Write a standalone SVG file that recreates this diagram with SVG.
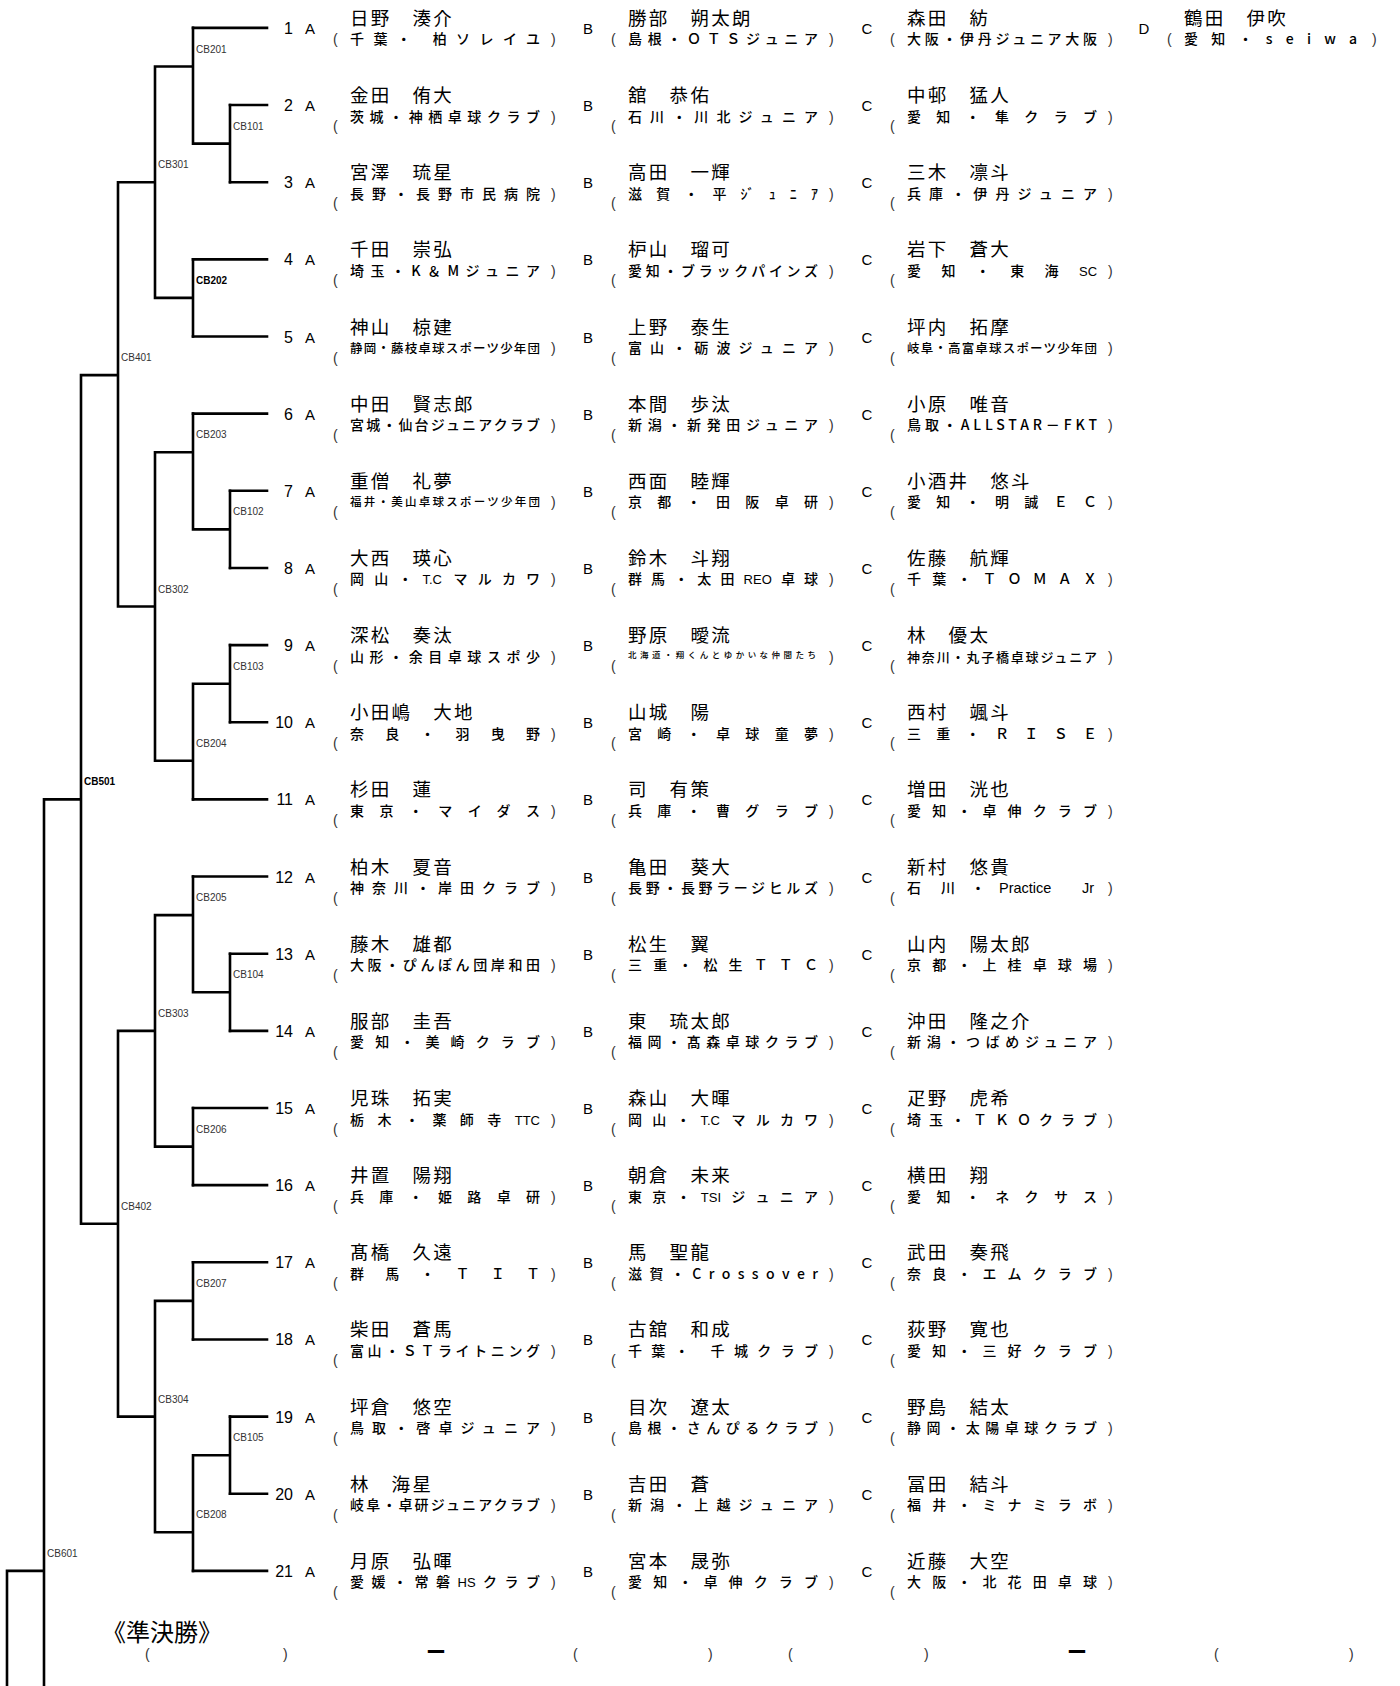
<svg xmlns="http://www.w3.org/2000/svg" width="1400" height="1686" viewBox="0 0 1400 1686">
<style>
.ln{fill:none;stroke:#000;stroke-width:2.6;stroke-linecap:square}
.cb{font-family:"Liberation Sans",Arial,sans-serif;font-size:10px;fill:#333}
.cbb{font-family:"Liberation Sans",Arial,sans-serif;font-size:10px;fill:#000;font-weight:bold}
.num{font-family:"Liberation Sans",Arial,sans-serif;font-size:16px;fill:#000;text-anchor:end}
.l{font-family:"Liberation Sans",Arial,sans-serif;font-size:15px;fill:#000;text-anchor:middle}
.n{font-family:"Noto Sans CJK JP",sans-serif;font-size:18.5px;letter-spacing:2.3px;fill:#000}
.c{font-family:"Noto Sans CJK JP",sans-serif;font-size:14px;font-weight:500;fill:#000}
.p{font-family:"Liberation Sans",Arial,sans-serif;font-size:14px;fill:#333}
.a{font-family:"Liberation Sans",Arial,sans-serif;font-size:13px}
.t{font-family:"Noto Sans CJK JP",sans-serif;font-size:24px;fill:#000}
.d{font-family:"Noto Sans CJK JP",sans-serif;font-size:20px;font-weight:bold;fill:#000;text-anchor:middle}
</style>
<rect x="0" y="0" width="1400" height="1686" fill="#fff"/>
<g id="connectors">
<path class="ln" d="M193 27.9H267 M230 105.05H267 M230 182.2H267 M193 259.35H267 M193 336.5H267 M193 413.65H267 M230 490.8H267 M230 567.95H267 M230 645.1H267 M230 722.25H267 M193 799.4H267 M193 876.55H267 M230 953.7H267 M230 1030.85H267 M193 1108H267 M193 1185.15H267 M193 1262.3H267 M193 1339.45H267 M230 1416.6H267 M230 1493.75H267 M193 1570.9H267"/>
<path class="ln" d="M230 105.05V182.2 M193 143.6H230 M193 27.9V143.6 M155 66.5H193 M193 259.35V336.5 M155 297.9H193 M155 66.5V297.9 M118 182.2H155 M230 490.8V567.95 M193 529.4H230 M193 413.65V529.4 M155 452.2H193 M230 645.1V722.25 M193 683.7H230 M193 683.7V799.4 M155 760.8H193 M155 452.2V760.8 M118 606.5H155 M118 182.2V606.5 M81 375.1H118 M230 953.7V1030.85 M193 992.3H230 M193 876.55V992.3 M155 915.1H193 M193 1108V1185.15 M155 1146.6H193 M155 915.1V1146.6 M118 1030.85H155 M193 1262.3V1339.45 M155 1300.9H193 M230 1416.6V1493.75 M193 1455.2H230 M193 1455.2V1570.9 M155 1532.3H193 M155 1300.9V1532.3 M118 1416.6H155 M118 1030.85V1416.6 M81 1223.7H118 M81 375.1V1223.7 M44 799.4H81 M44 799.4V1690 M7 1570.9H44 M7 1570.9V1690"/>
<text class="cb" x="233" y="129.6">CB101</text>
<text class="cb" x="196" y="52.5">CB201</text>
<text class="cbb" x="196" y="283.9">CB202</text>
<text class="cb" x="158" y="168.2">CB301</text>
<text class="cb" x="233" y="515.4">CB102</text>
<text class="cb" x="196" y="438.2">CB203</text>
<text class="cb" x="233" y="669.7">CB103</text>
<text class="cb" x="196" y="746.8">CB204</text>
<text class="cb" x="158" y="592.5">CB302</text>
<text class="cb" x="121" y="361.1">CB401</text>
<text class="cb" x="233" y="978.3">CB104</text>
<text class="cb" x="196" y="901.1">CB205</text>
<text class="cb" x="196" y="1132.6">CB206</text>
<text class="cb" x="158" y="1016.9">CB303</text>
<text class="cb" x="196" y="1286.9">CB207</text>
<text class="cb" x="233" y="1441.2">CB105</text>
<text class="cb" x="196" y="1518.3">CB208</text>
<text class="cb" x="158" y="1402.6">CB304</text>
<text class="cb" x="121" y="1209.7">CB402</text>
<text class="cbb" x="84" y="785.4">CB501</text>
<text class="cb" x="47" y="1556.9">CB601</text>
</g>

<g id="r1" transform="translate(0,27.9)">
<text class="num" x="293" y="6">1</text>
<g id="r1-A"><text class="l" x="310" y="6">A</text><text class="n" x="350" y="-3">日野　湊介</text><text class="p" x="333" y="16.5">(</text><text class="c" x="350" y="16.5" textLength="190" lengthAdjust="spacing">千葉・ 柏ソレイユ</text><text class="p" x="551" y="16.5">)</text></g>
<g id="r1-B" transform="translate(278,0)"><text class="l" x="310" y="6">B</text><text class="n" x="350" y="-3">勝部　朔太朗</text><text class="p" x="333" y="16.5">(</text><text class="c" x="350" y="16.5" textLength="190" lengthAdjust="spacing">島根・ＯＴＳジュニア</text><text class="p" x="551" y="16.5">)</text></g>
<g id="r1-C" transform="translate(557,0)"><text class="l" x="310" y="6">C</text><text class="n" x="350" y="-3">森田　紡</text><text class="p" x="333" y="16.5">(</text><text class="c" x="350" y="16.5" textLength="190" lengthAdjust="spacing">大阪・伊丹ジュニア大阪</text><text class="p" x="551" y="16.5">)</text></g>
<g id="r1-D" transform="translate(834,0)"><text class="l" x="310" y="6">D</text><text class="n" x="350" y="-3">鶴田　伊吹</text><text class="p" x="333" y="16.5">(</text><text class="c" x="350" y="16.5" textLength="173" lengthAdjust="spacing">愛知・seiwa</text><text class="p" x="538" y="16.5">)</text></g>
</g>

<g id="r2" transform="translate(0,105.05)">
<text class="num" x="293" y="6">2</text>
<g id="r2-A"><text class="l" x="310" y="6">A</text><text class="n" x="350" y="-3">金田　侑大</text><text class="p" x="333" y="26">(</text><text class="c" x="350" y="16.5" textLength="190" lengthAdjust="spacing">茨城・神栖卓球クラブ</text><text class="p" x="551" y="16.5">)</text></g>
<g id="r2-B" transform="translate(278,0)"><text class="l" x="310" y="6">B</text><text class="n" x="350" y="-3">舘　恭佑</text><text class="p" x="333" y="26">(</text><text class="c" x="350" y="16.5" textLength="190" lengthAdjust="spacing">石川・川北ジュニア</text><text class="p" x="551" y="16.5">)</text></g>
<g id="r2-C" transform="translate(557,0)"><text class="l" x="310" y="6">C</text><text class="n" x="350" y="-3">中邨　猛人</text><text class="p" x="333" y="26">(</text><text class="c" x="350" y="16.5" textLength="190" lengthAdjust="spacing">愛知・隼クラブ</text><text class="p" x="551" y="16.5">)</text></g>
</g>

<g id="r3" transform="translate(0,182.2)">
<text class="num" x="293" y="6">3</text>
<g id="r3-A"><text class="l" x="310" y="6">A</text><text class="n" x="350" y="-3">宮澤　琉星</text><text class="p" x="333" y="26">(</text><text class="c" x="350" y="16.5" textLength="190" lengthAdjust="spacing">長野・長野市民病院</text><text class="p" x="551" y="16.5">)</text></g>
<g id="r3-B" transform="translate(278,0)"><text class="l" x="310" y="6">B</text><text class="n" x="350" y="-3">高田　一輝</text><text class="p" x="333" y="26">(</text><text class="c" x="350" y="16.5" textLength="190" lengthAdjust="spacing">滋賀・平ｼﾞｭﾆｱ</text><text class="p" x="551" y="16.5">)</text></g>
<g id="r3-C" transform="translate(557,0)"><text class="l" x="310" y="6">C</text><text class="n" x="350" y="-3">三木　凛斗</text><text class="p" x="333" y="26">(</text><text class="c" x="350" y="16.5" textLength="190" lengthAdjust="spacing">兵庫・伊丹ジュニア</text><text class="p" x="551" y="16.5">)</text></g>
</g>

<g id="r4" transform="translate(0,259.35)">
<text class="num" x="293" y="6">4</text>
<g id="r4-A"><text class="l" x="310" y="6">A</text><text class="n" x="350" y="-3">千田　崇弘</text><text class="p" x="333" y="26">(</text><text class="c" x="350" y="16.5" textLength="190" lengthAdjust="spacing">埼玉・K＆Mジュニア</text><text class="p" x="551" y="16.5">)</text></g>
<g id="r4-B" transform="translate(278,0)"><text class="l" x="310" y="6">B</text><text class="n" x="350" y="-3">枦山　瑠可</text><text class="p" x="333" y="26">(</text><text class="c" x="350" y="16.5" textLength="190" lengthAdjust="spacing">愛知・ブラックパインズ</text><text class="p" x="551" y="16.5">)</text></g>
<g id="r4-C" transform="translate(557,0)"><text class="l" x="310" y="6">C</text><text class="n" x="350" y="-3">岩下　蒼大</text><text class="p" x="333" y="26">(</text><text class="c" y="16.5"><tspan x="350">愛</tspan><tspan x="384.4">知</tspan><tspan x="418.8">・</tspan><tspan x="453.2">東</tspan><tspan x="487.6">海</tspan><tspan x="522" class="a">SC</tspan></text><text class="p" x="551" y="16.5">)</text></g>
</g>

<g id="r5" transform="translate(0,336.5)">
<text class="num" x="293" y="6">5</text>
<g id="r5-A"><text class="l" x="310" y="6">A</text><text class="n" x="350" y="-3">神山　椋建</text><text class="p" x="333" y="26">(</text><text class="c" x="350" y="16" textLength="190" lengthAdjust="spacing" style="font-size:12.5px">静岡・藤枝卓球スポーツ少年団</text><text class="p" x="551" y="16.5">)</text></g>
<g id="r5-B" transform="translate(278,0)"><text class="l" x="310" y="6">B</text><text class="n" x="350" y="-3">上野　泰生</text><text class="p" x="333" y="26">(</text><text class="c" x="350" y="16.5" textLength="190" lengthAdjust="spacing">富山・砺波ジュニア</text><text class="p" x="551" y="16.5">)</text></g>
<g id="r5-C" transform="translate(557,0)"><text class="l" x="310" y="6">C</text><text class="n" x="350" y="-3">坪内　拓摩</text><text class="p" x="333" y="26">(</text><text class="c" x="350" y="16" textLength="190" lengthAdjust="spacing" style="font-size:12.5px">岐阜・高富卓球スポーツ少年団</text><text class="p" x="551" y="16.5">)</text></g>
</g>

<g id="r6" transform="translate(0,413.65)">
<text class="num" x="293" y="6">6</text>
<g id="r6-A"><text class="l" x="310" y="6">A</text><text class="n" x="350" y="-3">中田　賢志郎</text><text class="p" x="333" y="26">(</text><text class="c" x="350" y="16.5" textLength="190" lengthAdjust="spacing">宮城・仙台ジュニアクラブ</text><text class="p" x="551" y="16.5">)</text></g>
<g id="r6-B" transform="translate(278,0)"><text class="l" x="310" y="6">B</text><text class="n" x="350" y="-3">本間　歩汰</text><text class="p" x="333" y="26">(</text><text class="c" x="350" y="16.5" textLength="190" lengthAdjust="spacing">新潟・新発田ジュニア</text><text class="p" x="551" y="16.5">)</text></g>
<g id="r6-C" transform="translate(557,0)"><text class="l" x="310" y="6">C</text><text class="n" x="350" y="-3">小原　唯音</text><text class="p" x="333" y="26">(</text><text class="c" x="350" y="16.5" textLength="190" lengthAdjust="spacing">鳥取・ALLSTAR－FKT</text><text class="p" x="551" y="16.5">)</text></g>
</g>

<g id="r7" transform="translate(0,490.8)">
<text class="num" x="293" y="6">7</text>
<g id="r7-A"><text class="l" x="310" y="6">A</text><text class="n" x="350" y="-3">重僧　礼夢</text><text class="p" x="333" y="26">(</text><text class="c" x="350" y="15" textLength="190" lengthAdjust="spacing" style="font-size:11.5px">福井・美山卓球スポーツ少年団</text><text class="p" x="551" y="16.5">)</text></g>
<g id="r7-B" transform="translate(278,0)"><text class="l" x="310" y="6">B</text><text class="n" x="350" y="-3">西面　睦輝</text><text class="p" x="333" y="26">(</text><text class="c" x="350" y="16.5" textLength="190" lengthAdjust="spacing">京都・田阪卓研</text><text class="p" x="551" y="16.5">)</text></g>
<g id="r7-C" transform="translate(557,0)"><text class="l" x="310" y="6">C</text><text class="n" x="350" y="-3">小酒井　悠斗</text><text class="p" x="333" y="26">(</text><text class="c" x="350" y="16.5" textLength="190" lengthAdjust="spacing">愛知・明誠ＥＣ</text><text class="p" x="551" y="16.5">)</text></g>
</g>

<g id="r8" transform="translate(0,567.95)">
<text class="num" x="293" y="6">8</text>
<g id="r8-A"><text class="l" x="310" y="6">A</text><text class="n" x="350" y="-3">大西　瑛心</text><text class="p" x="333" y="26">(</text><text class="c" y="16.5"><tspan x="350">岡</tspan><tspan x="374.2">山</tspan><tspan x="398.3">・</tspan><tspan x="422.5" class="a">T.C</tspan><tspan x="453.6">マ</tspan><tspan x="477.7">ル</tspan><tspan x="501.9">カ</tspan><tspan x="526">ワ</tspan></text><text class="p" x="551" y="16.5">)</text></g>
<g id="r8-B" transform="translate(278,0)"><text class="l" x="310" y="6">B</text><text class="n" x="350" y="-3">鈴木　斗翔</text><text class="p" x="333" y="26">(</text><text class="c" y="16.5"><tspan x="350">群</tspan><tspan x="373.1">馬</tspan><tspan x="396.2">・</tspan><tspan x="419.3">太</tspan><tspan x="442.4">田</tspan><tspan x="465.6" class="a">REO</tspan><tspan x="502.9">卓</tspan><tspan x="526">球</tspan></text><text class="p" x="551" y="16.5">)</text></g>
<g id="r8-C" transform="translate(557,0)"><text class="l" x="310" y="6">C</text><text class="n" x="350" y="-3">佐藤　航輝</text><text class="p" x="333" y="26">(</text><text class="c" x="350" y="16.5" textLength="190" lengthAdjust="spacing">千葉・ＴＯＭＡＸ</text><text class="p" x="551" y="16.5">)</text></g>
</g>

<g id="r9" transform="translate(0,645.1)">
<text class="num" x="293" y="6">9</text>
<g id="r9-A"><text class="l" x="310" y="6">A</text><text class="n" x="350" y="-3">深松　奏汰</text><text class="p" x="333" y="26">(</text><text class="c" x="350" y="16.5" textLength="190" lengthAdjust="spacing">山形・余目卓球スポ少</text><text class="p" x="551" y="16.5">)</text></g>
<g id="r9-B" transform="translate(278,0)"><text class="l" x="310" y="6">B</text><text class="n" x="350" y="-3">野原　曖流</text><text class="p" x="333" y="26">(</text><text class="c" x="350" y="12.5" textLength="188" lengthAdjust="spacing" style="font-size:8.5px">北海道・翔くんとゆかいな仲間たち</text><text class="p" x="551" y="16.5">)</text></g>
<g id="r9-C" transform="translate(557,0)"><text class="l" x="310" y="6">C</text><text class="n" x="350" y="-3">林　優太</text><text class="p" x="333" y="26">(</text><text class="c" x="350" y="16.5" textLength="190" lengthAdjust="spacing" style="font-size:13px">神奈川・丸子橋卓球ジュニア</text><text class="p" x="551" y="16.5">)</text></g>
</g>

<g id="r10" transform="translate(0,722.25)">
<text class="num" x="293" y="6">10</text>
<g id="r10-A"><text class="l" x="310" y="6">A</text><text class="n" x="350" y="-3">小田嶋　大地</text><text class="p" x="333" y="26">(</text><text class="c" x="350" y="16.5" textLength="190" lengthAdjust="spacing">奈良・羽曳野</text><text class="p" x="551" y="16.5">)</text></g>
<g id="r10-B" transform="translate(278,0)"><text class="l" x="310" y="6">B</text><text class="n" x="350" y="-3">山城　陽</text><text class="p" x="333" y="26">(</text><text class="c" x="350" y="16.5" textLength="190" lengthAdjust="spacing">宮崎・卓球童夢</text><text class="p" x="551" y="16.5">)</text></g>
<g id="r10-C" transform="translate(557,0)"><text class="l" x="310" y="6">C</text><text class="n" x="350" y="-3">西村　颯斗</text><text class="p" x="333" y="26">(</text><text class="c" x="350" y="16.5" textLength="190" lengthAdjust="spacing">三重・ＲＩＳＥ</text><text class="p" x="551" y="16.5">)</text></g>
</g>

<g id="r11" transform="translate(0,799.4)">
<text class="num" x="293" y="6">11</text>
<g id="r11-A"><text class="l" x="310" y="6">A</text><text class="n" x="350" y="-3">杉田　蓮</text><text class="p" x="333" y="26">(</text><text class="c" x="350" y="16.5" textLength="190" lengthAdjust="spacing">東京・マイダス</text><text class="p" x="551" y="16.5">)</text></g>
<g id="r11-B" transform="translate(278,0)"><text class="l" x="310" y="6">B</text><text class="n" x="350" y="-3">司　有策</text><text class="p" x="333" y="26">(</text><text class="c" x="350" y="16.5" textLength="190" lengthAdjust="spacing">兵庫・曹グラブ</text><text class="p" x="551" y="16.5">)</text></g>
<g id="r11-C" transform="translate(557,0)"><text class="l" x="310" y="6">C</text><text class="n" x="350" y="-3">増田　洸也</text><text class="p" x="333" y="26">(</text><text class="c" x="350" y="16.5" textLength="190" lengthAdjust="spacing">愛知・卓伸クラブ</text><text class="p" x="551" y="16.5">)</text></g>
</g>

<g id="r12" transform="translate(0,876.55)">
<text class="num" x="293" y="6">12</text>
<g id="r12-A"><text class="l" x="310" y="6">A</text><text class="n" x="350" y="-3">柏木　夏音</text><text class="p" x="333" y="26">(</text><text class="c" x="350" y="16.5" textLength="190" lengthAdjust="spacing">神奈川・岸田クラブ</text><text class="p" x="551" y="16.5">)</text></g>
<g id="r12-B" transform="translate(278,0)"><text class="l" x="310" y="6">B</text><text class="n" x="350" y="-3">亀田　葵大</text><text class="p" x="333" y="26">(</text><text class="c" x="350" y="16.5" textLength="190" lengthAdjust="spacing">長野・長野ラージヒルズ</text><text class="p" x="551" y="16.5">)</text></g>
<g id="r12-C" transform="translate(557,0)"><text class="l" x="310" y="6">C</text><text class="n" x="350" y="-3">新村　悠貴</text><text class="p" x="333" y="26">(</text><text class="c" y="16.5"><tspan x="350">石</tspan><tspan x="384">川</tspan><tspan x="414">・</tspan><tspan x="442" class="a" style="font-size:14.5px">Practice</tspan><tspan x="525" class="a" style="font-size:14.5px">Jr</tspan></text><text class="p" x="551" y="16.5">)</text></g>
</g>

<g id="r13" transform="translate(0,953.7)">
<text class="num" x="293" y="6">13</text>
<g id="r13-A"><text class="l" x="310" y="6">A</text><text class="n" x="350" y="-3">藤木　雄都</text><text class="p" x="333" y="26">(</text><text class="c" x="350" y="16.5" textLength="190" lengthAdjust="spacing">大阪・ぴんぽん団岸和田</text><text class="p" x="551" y="16.5">)</text></g>
<g id="r13-B" transform="translate(278,0)"><text class="l" x="310" y="6">B</text><text class="n" x="350" y="-3">松生　翼</text><text class="p" x="333" y="26">(</text><text class="c" x="350" y="16.5" textLength="190" lengthAdjust="spacing">三重・松生ＴＴＣ</text><text class="p" x="551" y="16.5">)</text></g>
<g id="r13-C" transform="translate(557,0)"><text class="l" x="310" y="6">C</text><text class="n" x="350" y="-3">山内　陽太郎</text><text class="p" x="333" y="26">(</text><text class="c" x="350" y="16.5" textLength="190" lengthAdjust="spacing">京都・上桂卓球場</text><text class="p" x="551" y="16.5">)</text></g>
</g>

<g id="r14" transform="translate(0,1030.85)">
<text class="num" x="293" y="6">14</text>
<g id="r14-A"><text class="l" x="310" y="6">A</text><text class="n" x="350" y="-3">服部　圭吾</text><text class="p" x="333" y="26">(</text><text class="c" x="350" y="16.5" textLength="190" lengthAdjust="spacing">愛知・美崎クラブ</text><text class="p" x="551" y="16.5">)</text></g>
<g id="r14-B" transform="translate(278,0)"><text class="l" x="310" y="6">B</text><text class="n" x="350" y="-3">東　琉太郎</text><text class="p" x="333" y="26">(</text><text class="c" x="350" y="16.5" textLength="190" lengthAdjust="spacing">福岡・髙森卓球クラブ</text><text class="p" x="551" y="16.5">)</text></g>
<g id="r14-C" transform="translate(557,0)"><text class="l" x="310" y="6">C</text><text class="n" x="350" y="-3">沖田　隆之介</text><text class="p" x="333" y="26">(</text><text class="c" x="350" y="16.5" textLength="190" lengthAdjust="spacing">新潟・つばめジュニア</text><text class="p" x="551" y="16.5">)</text></g>
</g>

<g id="r15" transform="translate(0,1108)">
<text class="num" x="293" y="6">15</text>
<g id="r15-A"><text class="l" x="310" y="6">A</text><text class="n" x="350" y="-3">児珠　拓実</text><text class="p" x="333" y="26">(</text><text class="c" y="16.5"><tspan x="350">栃</tspan><tspan x="377.5">木</tspan><tspan x="404.9">・</tspan><tspan x="432.4">薬</tspan><tspan x="459.8">師</tspan><tspan x="487.3">寺</tspan><tspan x="514.7" class="a">TTC</tspan></text><text class="p" x="551" y="16.5">)</text></g>
<g id="r15-B" transform="translate(278,0)"><text class="l" x="310" y="6">B</text><text class="n" x="350" y="-3">森山　大暉</text><text class="p" x="333" y="26">(</text><text class="c" y="16.5"><tspan x="350">岡</tspan><tspan x="374.2">山</tspan><tspan x="398.3">・</tspan><tspan x="422.5" class="a">T.C</tspan><tspan x="453.6">マ</tspan><tspan x="477.7">ル</tspan><tspan x="501.9">カ</tspan><tspan x="526">ワ</tspan></text><text class="p" x="551" y="16.5">)</text></g>
<g id="r15-C" transform="translate(557,0)"><text class="l" x="310" y="6">C</text><text class="n" x="350" y="-3">疋野　虎希</text><text class="p" x="333" y="26">(</text><text class="c" x="350" y="16.5" textLength="190" lengthAdjust="spacing">埼玉・ＴＫＯクラブ</text><text class="p" x="551" y="16.5">)</text></g>
</g>

<g id="r16" transform="translate(0,1185.15)">
<text class="num" x="293" y="6">16</text>
<g id="r16-A"><text class="l" x="310" y="6">A</text><text class="n" x="350" y="-3">井置　陽翔</text><text class="p" x="333" y="26">(</text><text class="c" x="350" y="16.5" textLength="190" lengthAdjust="spacing">兵庫・姫路卓研</text><text class="p" x="551" y="16.5">)</text></g>
<g id="r16-B" transform="translate(278,0)"><text class="l" x="310" y="6">B</text><text class="n" x="350" y="-3">朝倉　未来</text><text class="p" x="333" y="26">(</text><text class="c" y="16.5"><tspan x="350">東</tspan><tspan x="374.3">京</tspan><tspan x="398.5">・</tspan><tspan x="422.8" class="a">TSI</tspan><tspan x="453.3">ジ</tspan><tspan x="477.5">ュ</tspan><tspan x="501.8">ニ</tspan><tspan x="526">ア</tspan></text><text class="p" x="551" y="16.5">)</text></g>
<g id="r16-C" transform="translate(557,0)"><text class="l" x="310" y="6">C</text><text class="n" x="350" y="-3">横田　翔</text><text class="p" x="333" y="26">(</text><text class="c" x="350" y="16.5" textLength="190" lengthAdjust="spacing">愛知・ネクサス</text><text class="p" x="551" y="16.5">)</text></g>
</g>

<g id="r17" transform="translate(0,1262.3)">
<text class="num" x="293" y="6">17</text>
<g id="r17-A"><text class="l" x="310" y="6">A</text><text class="n" x="350" y="-3">髙橋　久遠</text><text class="p" x="333" y="26">(</text><text class="c" x="350" y="16.5" textLength="190" lengthAdjust="spacing">群馬・ＴＩＴ</text><text class="p" x="551" y="16.5">)</text></g>
<g id="r17-B" transform="translate(278,0)"><text class="l" x="310" y="6">B</text><text class="n" x="350" y="-3">馬　聖龍</text><text class="p" x="333" y="26">(</text><text class="c" x="350" y="16.5" textLength="190" lengthAdjust="spacing">滋賀・Crossover</text><text class="p" x="551" y="16.5">)</text></g>
<g id="r17-C" transform="translate(557,0)"><text class="l" x="310" y="6">C</text><text class="n" x="350" y="-3">武田　奏飛</text><text class="p" x="333" y="26">(</text><text class="c" x="350" y="16.5" textLength="190" lengthAdjust="spacing">奈良・エムクラブ</text><text class="p" x="551" y="16.5">)</text></g>
</g>

<g id="r18" transform="translate(0,1339.45)">
<text class="num" x="293" y="6">18</text>
<g id="r18-A"><text class="l" x="310" y="6">A</text><text class="n" x="350" y="-3">柴田　蒼馬</text><text class="p" x="333" y="26">(</text><text class="c" x="350" y="16.5" textLength="190" lengthAdjust="spacing">富山・ＳＴライトニング</text><text class="p" x="551" y="16.5">)</text></g>
<g id="r18-B" transform="translate(278,0)"><text class="l" x="310" y="6">B</text><text class="n" x="350" y="-3">古舘　和成</text><text class="p" x="333" y="26">(</text><text class="c" x="350" y="16.5" textLength="190" lengthAdjust="spacing">千葉・ 千城クラブ</text><text class="p" x="551" y="16.5">)</text></g>
<g id="r18-C" transform="translate(557,0)"><text class="l" x="310" y="6">C</text><text class="n" x="350" y="-3">荻野　寛也</text><text class="p" x="333" y="26">(</text><text class="c" x="350" y="16.5" textLength="190" lengthAdjust="spacing">愛知・三好クラブ</text><text class="p" x="551" y="16.5">)</text></g>
</g>

<g id="r19" transform="translate(0,1416.6)">
<text class="num" x="293" y="6">19</text>
<g id="r19-A"><text class="l" x="310" y="6">A</text><text class="n" x="350" y="-3">坪倉　悠空</text><text class="p" x="333" y="26">(</text><text class="c" x="350" y="16.5" textLength="190" lengthAdjust="spacing">鳥取・啓卓ジュニア</text><text class="p" x="551" y="16.5">)</text></g>
<g id="r19-B" transform="translate(278,0)"><text class="l" x="310" y="6">B</text><text class="n" x="350" y="-3">目次　遼太</text><text class="p" x="333" y="26">(</text><text class="c" x="350" y="16.5" textLength="190" lengthAdjust="spacing">島根・さんぴるクラブ</text><text class="p" x="551" y="16.5">)</text></g>
<g id="r19-C" transform="translate(557,0)"><text class="l" x="310" y="6">C</text><text class="n" x="350" y="-3">野島　結太</text><text class="p" x="333" y="26">(</text><text class="c" x="350" y="16.5" textLength="190" lengthAdjust="spacing">静岡・太陽卓球クラブ</text><text class="p" x="551" y="16.5">)</text></g>
</g>

<g id="r20" transform="translate(0,1493.75)">
<text class="num" x="293" y="6">20</text>
<g id="r20-A"><text class="l" x="310" y="6">A</text><text class="n" x="350" y="-3">林　海星</text><text class="p" x="333" y="26">(</text><text class="c" x="350" y="16.5" textLength="190" lengthAdjust="spacing">岐阜・卓研ジュニアクラブ</text><text class="p" x="551" y="16.5">)</text></g>
<g id="r20-B" transform="translate(278,0)"><text class="l" x="310" y="6">B</text><text class="n" x="350" y="-3">吉田　蒼</text><text class="p" x="333" y="26">(</text><text class="c" x="350" y="16.5" textLength="190" lengthAdjust="spacing">新潟・上越ジュニア</text><text class="p" x="551" y="16.5">)</text></g>
<g id="r20-C" transform="translate(557,0)"><text class="l" x="310" y="6">C</text><text class="n" x="350" y="-3">冨田　結斗</text><text class="p" x="333" y="26">(</text><text class="c" x="350" y="16.5" textLength="190" lengthAdjust="spacing">福井・ミナミラボ</text><text class="p" x="551" y="16.5">)</text></g>
</g>

<g id="r21" transform="translate(0,1570.9)">
<text class="num" x="293" y="6">21</text>
<g id="r21-A"><text class="l" x="310" y="6">A</text><text class="n" x="350" y="-3">月原　弘暉</text><text class="p" x="333" y="26">(</text><text class="c" y="16.5"><tspan x="350">愛</tspan><tspan x="371.5">媛</tspan><tspan x="393">・</tspan><tspan x="414.5">常</tspan><tspan x="436">磐</tspan><tspan x="457.5" class="a">HS</tspan><tspan x="483.1">ク</tspan><tspan x="504.6">ラ</tspan><tspan x="526.1">ブ</tspan></text><text class="p" x="551" y="16.5">)</text></g>
<g id="r21-B" transform="translate(278,0)"><text class="l" x="310" y="6">B</text><text class="n" x="350" y="-3">宮本　晟弥</text><text class="p" x="333" y="26">(</text><text class="c" x="350" y="16.5" textLength="190" lengthAdjust="spacing">愛知・卓伸クラブ</text><text class="p" x="551" y="16.5">)</text></g>
<g id="r21-C" transform="translate(557,0)"><text class="l" x="310" y="6">C</text><text class="n" x="350" y="-3">近藤　大空</text><text class="p" x="333" y="26">(</text><text class="c" x="350" y="16.5" textLength="190" lengthAdjust="spacing">大阪・北花田卓球</text><text class="p" x="551" y="16.5">)</text></g>
</g>

<g id="semifinal">
<text class="t" x="102" y="1641">《準決勝》</text>
<text class="p" x="145" y="1659">(</text><text class="p" x="283" y="1659">)</text>
<text class="d" x="436" y="1660">ー</text>
<text class="p" x="573" y="1659">(</text><text class="p" x="708" y="1659">)</text>
<text class="p" x="788" y="1659">(</text><text class="p" x="924" y="1659">)</text>
<text class="d" x="1077" y="1660">ー</text>
<text class="p" x="1214" y="1659">(</text><text class="p" x="1349" y="1659">)</text>
</g>
</svg>
